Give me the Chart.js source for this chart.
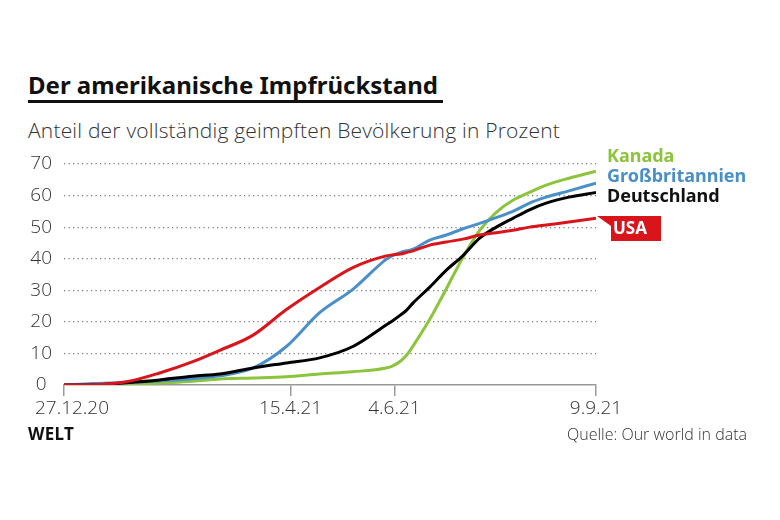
<!DOCTYPE html>
<html>
<head>
<meta charset="utf-8">
<script src="https://cdn.jsdelivr.net/npm/chart.js@4/dist/chart.umd.min.js"></script>
<style>
  body { margin: 0; background: #fff; }
  #wrap { position: relative; width: 780px; height: 520px; overflow: hidden; font-family: "Open Sans", "Noto Sans", sans-serif; }
  #title { position: absolute; left: 28px; top: 69px; font: bold 24px "Noto Sans", sans-serif; line-height: 32px; color: #111; }
  #rule { position: absolute; left: 28px; top: 100px; width: 415px; height: 3px; background: #111; }
  #sub { position: absolute; left: 28px; top: 116px; font-size: 21px; font-weight: 300; letter-spacing: 0.2px; line-height: 28px; color: #333; }
  #logo { position: absolute; left: 28px; top: 422px; font: bold 17px "Noto Sans", sans-serif; letter-spacing: 0.3px; color: #111; }
  #src { position: absolute; right: 33px; top: 423px; font-size: 16px; font-weight: 300; color: #333; }
  canvas { position: absolute; left: 0; top: 0; }
</style>
</head>
<body>
<div id="wrap">
  <div id="title">Der amerikanische Impfrückstand</div>
  <div id="rule"></div>
  <div id="sub">Anteil der vollständig geimpften Bevölkerung in Prozent</div>
  <canvas id="myChart" width="780" height="520"></canvas>
  <div id="logo">WELT</div>
  <div id="src">Quelle: Our world in data</div>
</div>
<script>
// days since 27.12.20
var days = [0, 14, 30, 46, 62, 75, 91, 107, 123, 139, 155, 158, 162, 165, 168, 176, 184, 192, 200, 208, 216, 224, 232, 243, 256];
var usa  = [0, 0.1, 1, 3.8, 7.4, 11, 15.8, 23.9, 30.9, 37.2, 40.9, 41.2, 41.5, 42, 42.5, 44.3, 45.3, 46.2, 47.5, 48.2, 49, 50, 50.7, 51.6, 52.8];
var gb   = [0, 0.5, 0.8, 1.3, 2.0, 2.9, 5.4, 12.2, 22.9, 30.3, 39.8, 41, 42, 42.5, 43, 45.9, 47.5, 49.5, 51.2, 53, 55, 57.6, 59.5, 61.5, 63.9];
var de   = [0, 0, 0.7, 1.6, 2.8, 3.5, 5.4, 7, 8.6, 12.2, 19, 20.3, 22.2, 23.8, 26, 31, 36.4, 41, 46.5, 50, 52.8, 55.5, 57.6, 59.5, 61];
var ca   = [0, 0, 0, 0.6, 1.2, 1.9, 2.2, 2.6, 3.5, 4.2, 5.4, 6.0, 7.6, 9.6, 12.4, 20.8, 30.5, 40.5, 49, 54.7, 58.5, 61, 63.3, 65.5, 67.7];
var tickDays = [0, 109, 159, 256];
var tickLabels = ['27.12.20', '15.4.21', '4.6.21', '9.9.21'];
var yTicks = [0, 10, 20, 30, 40, 50, 60, 70];

var pts = function(vals) {
    return days.map(function(d, i) { return { x: d, y: vals[i] }; });
};
var line = function(label, vals, color) {
    return { label: label, data: pts(vals), borderColor: color, borderWidth: 3, pointRadius: 0, cubicInterpolationMode: 'monotone', fill: false };
};

var labelPlugin = {
    id: 'endLabels',
    afterDraw: function(chart) {
        var ctx = chart.ctx;
        ctx.save();
        // date labels under the tick marks, first one nudged right like the original
        var xs = chart.scales.x;
        ctx.font = '300 19px "Open Sans", sans-serif';
        ctx.fillStyle = '#333';
        ctx.textAlign = 'center';
        ctx.textBaseline = 'middle';
        tickDays.forEach(function(d, i) {
            ctx.fillText(tickLabels[i], xs.getPixelForValue(d) + (i === 0 ? 8 : 0), 409);
        });

        ctx.font = 'bold 18px "Noto Sans", sans-serif';
        ctx.textAlign = 'left';
        ctx.fillStyle = '#8cc43c'; ctx.fillText('Kanada', 607, 157);
        ctx.fillStyle = '#4a8fc8'; ctx.fillText('Großbritannien', 607, 177);
        ctx.fillStyle = '#111'; ctx.fillText('Deutschland', 607, 197);
        // USA box
        ctx.fillStyle = '#d9141b';
        ctx.beginPath();
        ctx.moveTo(597, 216); ctx.lineTo(661, 216); ctx.lineTo(661, 241);
        ctx.lineTo(611, 241); ctx.lineTo(611, 226); ctx.closePath(); ctx.fill();
        ctx.fillStyle = '#fff';
        ctx.font = 'bold 17px "Noto Sans", sans-serif';
        ctx.fillText('USA', 613, 229);
        ctx.restore();
    }
};

var myChart = new Chart(document.getElementById('myChart'), {
    type: 'line',
    data: {
        datasets: [
            line('USA', usa, '#d9141b'),
            line('Deutschland', de, '#000'),
            line('Großbritannien', gb, '#4a8fc8'),
            line('Kanada', ca, '#8cc43c')
        ]
    },
    options: {
        responsive: false,
        animation: false,
        layout: { padding: { left: 0, top: 164, right: 184, bottom: 95 } },
        plugins: { legend: { display: false }, tooltip: { enabled: false } },
        scales: {
            x: {
                type: 'linear', min: 0, max: 256,
                afterBuildTicks: function(s) { s.ticks = tickDays.map(function(v) { return { value: v }; }); },
                afterFit: function(s) { s.height = 40; },
                ticks: { display: false },
                grid: { drawOnChartArea: false, drawTicks: true, tickLength: 11, tickColor: '#999', lineWidth: 1.5 },
                border: { display: true, color: '#999', width: 1.5 }
            },
            y: {
                min: 0, max: 70,
                afterBuildTicks: function(s) { s.ticks = yTicks.map(function(v) { return { value: v }; }); },
                afterFit: function(s) { s.width = 64; },
                ticks: {
                    color: '#333', font: { family: 'Open Sans', size: 19, weight: 300 }, padding: 12, crossAlign: 'center'
                },
                grid: { drawTicks: false, color: function(c) { return c.tick && c.tick.value === 0 ? 'rgba(0,0,0,0)' : '#777'; }, lineWidth: 1.2 },
                border: { display: false, dash: [1.2, 3.3] }
            }
        }
    },
    plugins: [labelPlugin]
});
</script>
</body>
</html>
